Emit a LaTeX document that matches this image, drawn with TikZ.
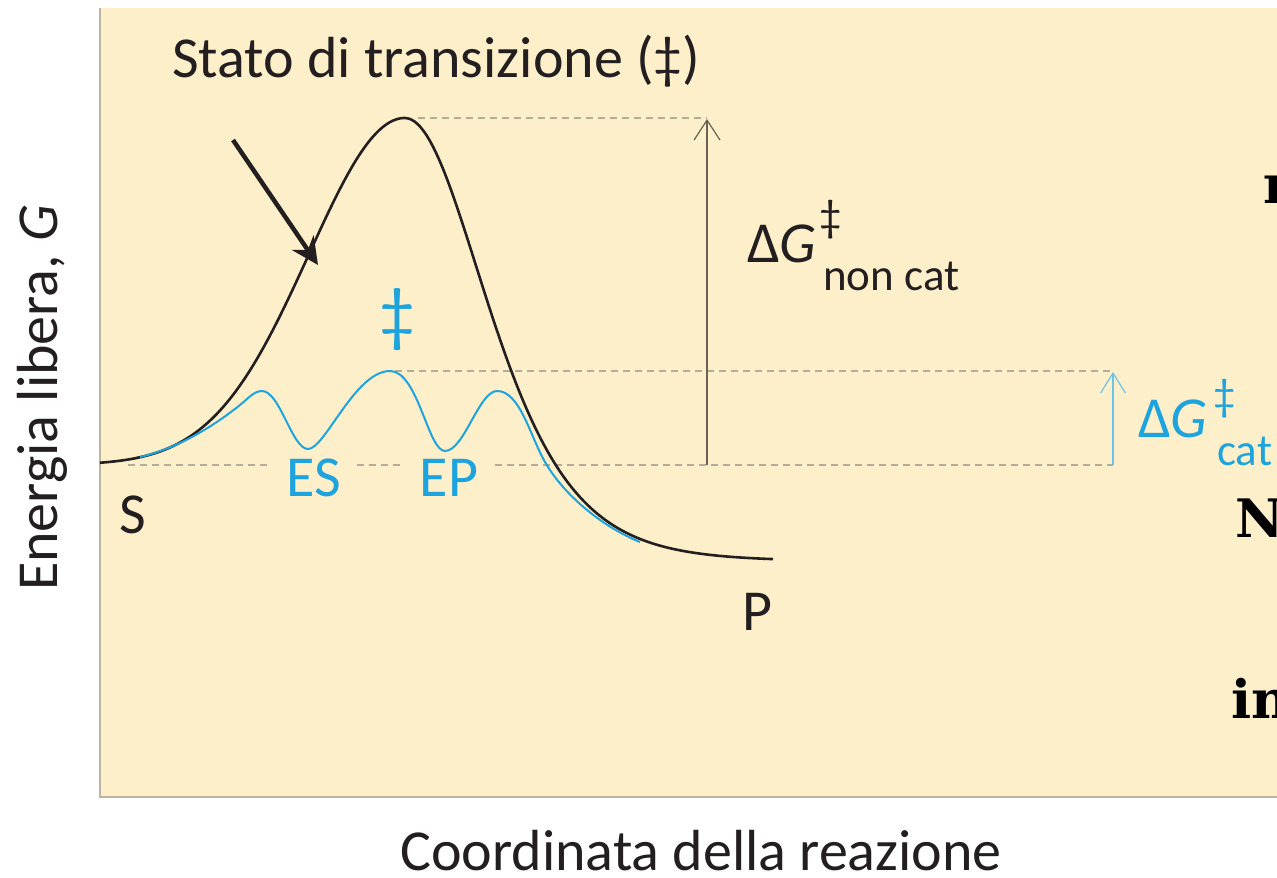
\documentclass[tikz,border=0pt]{standalone}
\usepackage{fontspec}
\setmainfont{Carlito}
\newfontfamily\slabfont{DejaVu Serif}
\usetikzlibrary{arrows.meta}
\definecolor{bg}{HTML}{FDEFCA}
\definecolor{framec}{HTML}{BDB4A0}
\definecolor{ink}{HTML}{231F20}
\definecolor{cyanline}{HTML}{1DA4DE}
\definecolor{cyanarrow}{HTML}{6CC3EA}
\definecolor{dashc}{HTML}{B5AC98}
\definecolor{arrowgray}{HTML}{6A6252}
\begin{document}
\begin{tikzpicture}[x=1pt,y=-1pt,
  declare function={
    gl(\t)=465-347*exp(-((\t-405)/136)*((\t-405)/136));
    ch(\t)=exp(0.00927*(\t-405))+exp(-0.00927*(\t-405));
    gr(\t)=561-1772/(ch(\t)*ch(\t));
  },
  lbl/.style={inner sep=0pt, text=ink, font=\fontsize{58}{58}\selectfont},
  bluelbl/.style={lbl, text=cyanline},
  sublbl/.style={inner sep=0pt, font=\fontsize{45}{45}\selectfont},
  guide/.style={draw=dashc, line width=1.1pt, dash pattern=on 7pt off 5pt},
  slab/.style={inner sep=0pt, text=black, font=\fontsize{53}{53}\slabfont\bfseries},
]
\useasboundingbox (0,0) rectangle (1277,878);
\fill[bg] (100,8) rectangle (1277,797);
\draw[framec, line width=2pt] (100,8) -- (100,797) -- (1277,797);

% guide lines
\coordinate (peakR) at (418,118);
\coordinate (topEnd) at (707,118);
\coordinate (midL) at (395,371);
\coordinate (midR) at (1113,371);
\draw[guide] (peakR) -- (topEnd);
\draw[guide] (midL) -- (midR);
\draw[guide] (128,465) -- (268,465);
\draw[guide] (357,465) -- (403,465);
\draw[guide] (495,465) -- (1113,465);

% uncatalysed curve
\draw[ink, line width=2.6pt, line join=round]
  plot[domain=100:405, samples=120] (\x,{gl(\x)})
  -- plot[domain=405:773, samples=120] (\x,{gr(\x)});

% catalysed curve
\draw[cyanline, line width=2pt]
  (140,457) .. controls (175,449) and (210,429) .. (240,405)
  .. controls (248,398.6) and (254,391) .. (262,391)
  .. controls (280,391) and (292,449) .. (308,449)
  .. controls (325,449) and (355,371) .. (390,371)
  .. controls (418,371) and (428,451) .. (445,451)
  .. controls (464,451) and (479,391) .. (497,391)
  .. controls (520,391) and (530,436) .. (545,462)
  .. controls (565,497) and (605,528) .. (640,542);

% energy arrows
\coordinate (nBase) at (707,465);
\coordinate (nTop) at (707,119);
\draw[arrowgray, line width=1.2pt, -{Straight Barb[length=20pt,width=26pt]}] (nBase) -- (nTop);
\coordinate (cBase) at (1113,465);
\coordinate (cTop) at (1113,372);
\draw[cyanarrow, line width=1.2pt, -{Straight Barb[length=20pt,width=25pt]}] (cBase) -- (cTop);

% pointer arrow
\coordinate (pStart) at (233,140);
\coordinate (pEnd) at (318,265);
\draw[ink, line width=4.5pt, -{Stealth[length=27pt,width=26pt,inset=9pt]}] (pStart) -- (pEnd);

% labels
\node[lbl, anchor=base west] (title) at (172,77) {Stato di transizione (‡)};
\node[lbl, anchor=base west] (dgn) at (747,262) {Δ\textit{G}};
\node[sublbl, text=ink, anchor=center] (dgnsup) at (831,220) {‡};
\node[sublbl, text=ink, anchor=base west] (dgnsub) at (823,290) {non cat};
\node[bluelbl, anchor=center, font=\fontsize{72}{72}\selectfont] (tsblue) at (397,320) {‡};
\node[bluelbl, anchor=base west] (dgc) at (1138,437) {Δ\textit{G}};
\node[sublbl, text=cyanline, anchor=center] (dgcsup) at (1225,399) {‡};
\node[sublbl, text=cyanline, anchor=base west] (dgcsub) at (1217,465) {cat};
\node[bluelbl, anchor=center] (es) at (314,478) {ES};
\node[bluelbl, anchor=center] (ep) at (449,478) {EP};
\node[lbl, anchor=center] (s) at (133,515) {S};
\node[lbl, anchor=center] (p) at (757,612) {P};
\node[lbl, rotate=90, anchor=base] (ylab) at (57,398) {Energia libera, \textit{G}};
\node[lbl, anchor=base west] (xlab) at (400,870) {Coordinata della reazione};

% clipped fragments at right edge
\begin{scope}
\clip (0,0) rectangle (1277,878);
\node[slab, anchor=base west] (fr1) at (1263,203) {r};
\node[slab, anchor=base west] (fr2) at (1235,537) {N};
\node[slab, anchor=base west] (fr3) at (1231,718) {in};
\end{scope}
\end{tikzpicture}
\end{document}
